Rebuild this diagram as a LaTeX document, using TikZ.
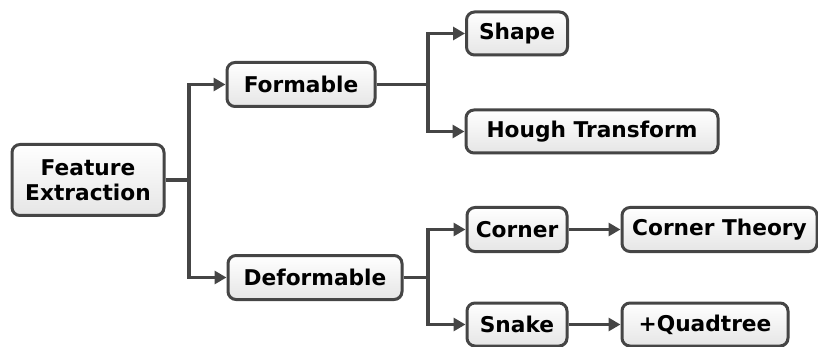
\documentclass[tikz,border=0pt]{standalone}
\usepackage{fontspec}
\setmainfont{DejaVu Sans}
\usetikzlibrary{arrows.meta,shadows}
\definecolor{edge}{HTML}{454545}
\tikzset{
  box/.style={draw=edge, line width=3pt, rounded corners=8pt,
    top color=white, bottom color=black!10, minimum height=44pt,
    font=\bfseries\fontsize{21.7}{24}\selectfont, align=center, inner sep=0pt,
    drop shadow={shadow xshift=1.2pt, shadow yshift=-1.2pt, opacity=0.25, fill=black}},
  conn/.style={draw=edge, line width=3.2pt},
  arr/.style={conn, -{Triangle[length=12pt,width=13pt]}},
}
\begin{document}
\begin{tikzpicture}[x=1pt,y=-1pt]
\useasboundingbox (0,0) rectangle (818,347);
\node[box, minimum width=152pt, minimum height=71pt] (fe) at (88,180) {Feature\\[1pt]Extraction};
\node[box, minimum width=148pt] (form) at (301,84.5) {Formable};
\node[box, minimum width=174pt] (deform) at (315,277.5) {Deformable};
\node[box, minimum width=101pt, minimum height=43pt] (shape) at (517,33.5) {Shape};
\node[box, minimum width=252pt, minimum height=43pt] (hough) at (592,131.5) {Hough Transform};
\node[box, minimum width=100pt] (corner) at (517,229.5) {Corner};
\node[box, minimum width=195pt] (ct) at (719.5,229.5) {Corner Theory};
\node[box, minimum width=100pt, minimum height=43pt] (snake) at (517,324.5) {Snake};
\node[box, minimum width=166pt, minimum height=43pt] (qt) at (705,324.5) {+Quadtree};
\coordinate (j1) at (189,180);
\coordinate (j2) at (428,84.5);
\coordinate (j3) at (428,277.5);
\draw[conn] (fe.east) -- (j1);
\draw[arr] (j1) |- (form.west);
\draw[arr] (j1) |- (deform.west);
\draw[conn] (form.east) -- (j2);
\draw[arr] (j2) |- (shape.west);
\draw[arr] (j2) |- (hough.west);
\draw[conn] (deform.east) -- (j3);
\draw[arr] (j3) |- (corner.west);
\draw[arr] (j3) |- (snake.west);
\draw[arr] (corner.east) -- (ct.west);
\draw[arr] (snake.east) -- (qt.west);
\end{tikzpicture}
\end{document}
